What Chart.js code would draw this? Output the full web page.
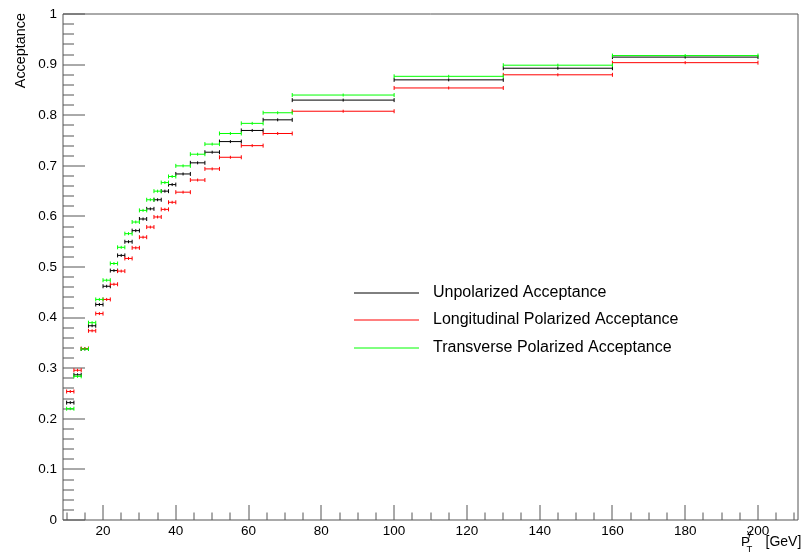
<!DOCTYPE html>
<html>
<head>
<meta charset="utf-8">
<script src="https://cdn.jsdelivr.net/npm/chart.js@4.4.1/dist/chart.umd.min.js"></script>
<style>
  html, body { margin: 0; padding: 0; background: #ffffff; overflow: hidden; }
  canvas { display: block; }
</style>
</head>
<body>
<canvas id="acc" width="803" height="554"></canvas>
<script>
// Photon pT bin edges [GeV]
const binEdges = [10, 12, 14, 16, 18, 20, 22, 24, 26, 28, 30, 32, 34, 36, 38, 40,
                  44, 48, 52, 58, 64, 72, 100, 130, 160, 200];

// Acceptance per bin
const unpolarized  = [0.232, 0.287, 0.338, 0.384, 0.426, 0.462, 0.493, 0.523, 0.550, 0.572,
                      0.595, 0.615, 0.633, 0.650, 0.663, 0.684, 0.706, 0.727, 0.748, 0.770,
                      0.791, 0.830, 0.870, 0.893, 0.915];
const longitudinal = [0.254, 0.296, 0.339, 0.374, 0.408, 0.436, 0.466, 0.492, 0.517, 0.538,
                      0.559, 0.579, 0.599, 0.614, 0.628, 0.648, 0.672, 0.694, 0.717, 0.740,
                      0.764, 0.808, 0.854, 0.880, 0.904];
const transverse   = [0.220, 0.284, 0.338, 0.390, 0.436, 0.474, 0.507, 0.539, 0.566, 0.589,
                      0.612, 0.633, 0.650, 0.667, 0.679, 0.700, 0.723, 0.743, 0.764, 0.784,
                      0.805, 0.840, 0.877, 0.899, 0.918];

const seriesLabels = ['Unpolarized Acceptance', 'Longitudinal Polarized Acceptance', 'Transverse Polarized Acceptance'];
const seriesColors = ['#000000', '#ff0000', '#00ff00'];

const xTickValues = [20, 40, 60, 80, 100, 120, 140, 160, 180, 200];
const yTickValues = [0, 0.1, 0.2, 0.3, 0.4, 0.5, 0.6, 0.7, 0.8, 0.9, 1];

const FONT = "'Liberation Sans', Arial, Helvetica, sans-serif";

// Each bin becomes a horizontal segment: left edge, centre, right edge, then a gap.
function binSegments(values) {
  const pts = [];
  values.forEach((v, i) => {
    const lo = binEdges[i], hi = binEdges[i + 1];
    pts.push({ x: lo, y: v, k: 'edge' });
    pts.push({ x: (lo + hi) / 2, y: v, k: 'mid' });
    pts.push({ x: hi, y: v, k: 'edge' });
    pts.push({ x: hi, y: null, k: 'gap' });
  });
  return pts;
}

function makeDataset(idx, values, order) {
  return {
    label: seriesLabels[idx],
    data: binSegments(values),
    borderColor: seriesColors[idx],
    backgroundColor: seriesColors[idx],
    pointBorderColor: seriesColors[idx],
    borderWidth: 1,
    spanGaps: false,
    tension: 0,
    order: order,
    pointStyle: 'line',
    pointRotation: 90,
    pointBorderWidth: 1,
    pointRadius: (c) => c.raw && c.raw.k === 'edge' ? 2 : (c.raw && c.raw.k === 'mid' ? 1.5 : 0)
  };
}

// Frame with inward ticks, in the style of a physics analysis plot
const frameTicks = {
  id: 'frameTicks',
  beforeDatasetsDraw(chart) {
    const { ctx, chartArea: a, scales: { x, y } } = chart;
    ctx.save();
    ctx.strokeStyle = '#555555';
    ctx.lineWidth = 1;
    ctx.beginPath();
    ctx.rect(Math.round(a.left), Math.round(a.top), Math.round(a.right - a.left), Math.round(a.bottom - a.top));
    ctx.stroke();
    ctx.beginPath();
    // x ticks: major every 20, minor every 5
    for (let v = 10; v <= 210; v += 5) {
      const px = Math.round(x.getPixelForValue(v));
      const len = (v % 20 === 0) ? 15 : 7.5;
      ctx.moveTo(px, a.bottom);
      ctx.lineTo(px, a.bottom - len);
    }
    // y ticks: major every 0.1, minor every 0.02
    for (let i = 0; i <= 50; i++) {
      const py = Math.round(y.getPixelForValue(i * 0.02));
      const len = (i % 5 === 0) ? 22 : 11;
      ctx.moveTo(a.left, py);
      ctx.lineTo(a.left + len, py);
    }
    ctx.stroke();
    ctx.restore();
  },
  afterDraw(chart) {
    const { ctx } = chart;
    ctx.save();
    ctx.fillStyle = '#000000';

    // y axis title, right-aligned at the top
    ctx.save();
    ctx.translate(25, 13);
    ctx.rotate(-Math.PI / 2);
    ctx.font = '14.4px ' + FONT;
    ctx.textAlign = 'right';
    ctx.textBaseline = 'alphabetic';
    ctx.fillText('Acceptance', 0, 0);
    ctx.restore();

    // x axis title P_T^γ [GeV]
    ctx.textBaseline = 'alphabetic';
    ctx.textAlign = 'left';
    ctx.font = '13.5px ' + FONT;
    ctx.fillText('P', 741, 546);
    ctx.font = '9.5px ' + FONT;
    ctx.fillText('γ', 747, 536);
    ctx.fillText('T', 746.5, 551.5);
    ctx.font = '14px ' + FONT;
    ctx.fillText('[GeV]', 765.5, 546);

    // legend
    const rows = [293, 320, 348];
    ctx.font = '16px ' + FONT;
    ctx.textBaseline = 'middle';
    rows.forEach((ry, i) => {
      ctx.strokeStyle = seriesColors[i];
      ctx.lineWidth = 1;
      ctx.beginPath();
      ctx.moveTo(354, ry);
      ctx.lineTo(419, ry);
      ctx.stroke();
      ctx.fillStyle = '#000000';
      ctx.fillText(seriesLabels[i], 433, ry);
    });
    ctx.restore();
  }
};

new Chart(document.getElementById('acc'), {
  type: 'line',
  data: {
    datasets: [
      makeDataset(0, unpolarized, 2),
      makeDataset(1, longitudinal, 1),
      makeDataset(2, transverse, 0)
    ]
  },
  options: {
    responsive: false,
    animation: false,
    devicePixelRatio: 1,
    layout: { padding: { left: 0, right: 2, top: 12, bottom: 0 } },
    plugins: { legend: { display: false }, tooltip: { enabled: false } },
    scales: {
      x: {
        type: 'linear',
        min: 9,
        max: 211,
        afterFit(s) { s.height = 34; },
        afterBuildTicks(s) { s.ticks = xTickValues.map(v => ({ value: v })); },
        grid: { display: false, drawTicks: false },
        border: { display: false },
        ticks: {
          font: { family: FONT, size: 13.5 },
          color: '#000000',
          padding: 3,
          maxRotation: 0,
          autoSkip: false
        }
      },
      y: {
        type: 'linear',
        min: 0,
        max: 1,
        afterFit(s) { s.width = 63; },
        afterBuildTicks(s) { s.ticks = yTickValues.map(v => ({ value: v })); },
        grid: { display: false, drawTicks: false },
        border: { display: false },
        ticks: {
          font: { family: FONT, size: 13.5 },
          color: '#000000',
          padding: 6,
          autoSkip: false,
          callback: (v) => String(Math.round(v * 10) / 10)
        }
      }
    }
  },
  plugins: [frameTicks]
});
</script>
</body>
</html>
